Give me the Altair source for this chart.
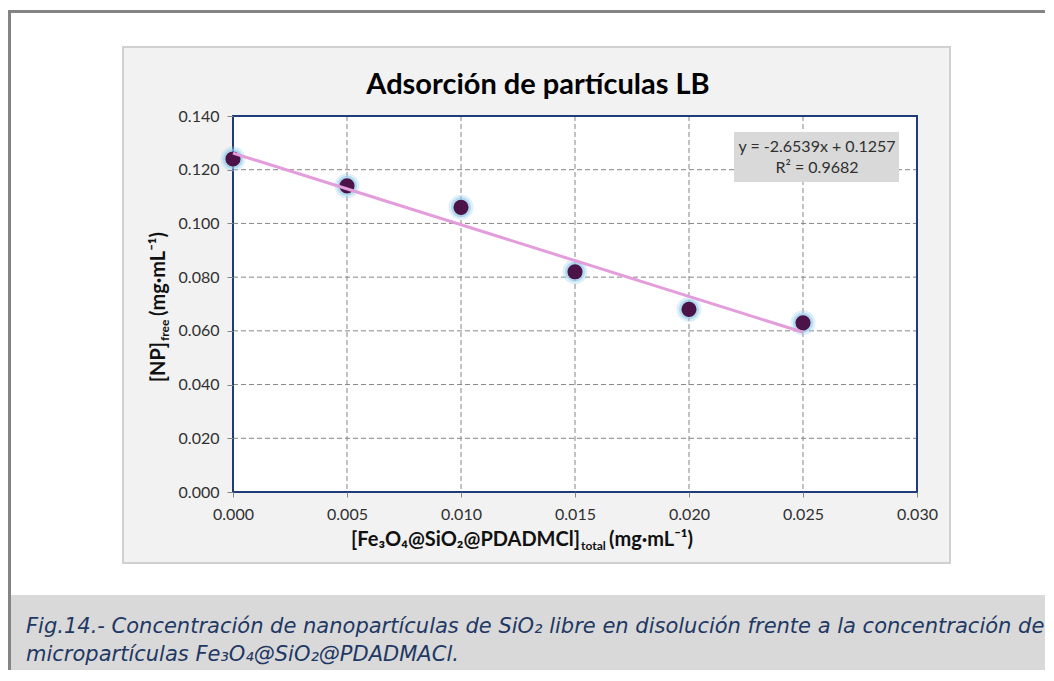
import altair as alt
import pandas as pd

# ---------------- data ----------------
x_conc = [0.000, 0.005, 0.010, 0.015, 0.020, 0.025]
np_free = [0.124, 0.114, 0.106, 0.082, 0.068, 0.063]
x_ticks = [0.000, 0.005, 0.010, 0.015, 0.020, 0.025, 0.030]
y_ticks = [0.000, 0.020, 0.040, 0.060, 0.080, 0.100, 0.120, 0.140]
title_text = "Adsorción de partículas LB"
eq_lines = ["y = -2.6539x + 0.1257", "R² = 0.9682"]
x_title_parts = ["[Fe₃O₄@SiO₂@PDADMCl]", "total", "(mg·mL⁻¹)"]
y_title_parts = ["[NP]", "free", "(mg·mL⁻¹)"]
caption_lines = [
    "Fig.14.- Concentración de nanopartículas de SiO₂ libre en disolución frente a la concentración de",
    "micropartículas Fe₃O₄@SiO₂@PDADMACl.",
]

# ---------------- layout (page pixels) ----------------
W, H = 684, 376
OX, OY = 233, 116


def px(v):
    return v - OX


def py(v):
    return v - OY


one = pd.DataFrame({"k": [0]})


def box(x1, y1, x2, y2, **mark):
    return alt.Chart(one).mark_rect(**mark).encode(
        x=alt.value(px(x1)), x2=alt.value(px(x2)),
        y=alt.value(py(y1)), y2=alt.value(py(y2)),
    )


def label(text, x, y, **mark):
    return alt.Chart(one).mark_text(text=text, **mark).encode(
        x=alt.value(px(x)), y=alt.value(py(y))
    )


df = pd.DataFrame({"x": x_conc, "y": np_free})
xs = alt.Scale(domain=[0, 0.03], nice=False, zero=False)
ys = alt.Scale(domain=[0, 0.14], nice=False, zero=False)

x_axis = alt.Axis(values=x_ticks, format=".3f", grid=False, domain=False,
                  tickColor="#868686", tickSize=5, labelFont="Lato",
                  labelFontSize=16, labelColor="#303030", labelPadding=9,
                  labelFlush=False, title="", zindex=1)
y_axis = alt.Axis(values=y_ticks, format=".3f", grid=False, domain=False,
                  tickColor="#868686", tickSize=6, labelFont="Lato",
                  labelFontSize=16, labelColor="#303030", labelPadding=8,
                  title="", zindex=1)

canvas = box(8, 8, 1045, 670, fill="white", strokeWidth=0)
top_line = box(8, 10, 1045, 13, fill="#848484", strokeWidth=0)
left_line = box(8, 10, 11, 670, fill="#848484", strokeWidth=0)
chart_box = box(123, 47, 950, 563, fill="#f2f2f2", stroke="#d0d0d0", strokeWidth=2)
caption_box = box(11, 595, 1045, 670, fill="#d9d9d9", strokeWidth=0)
plot_bg = alt.Chart(one).mark_rect(fill="white", strokeWidth=0).encode(
    x=alt.value(0), x2=alt.value(W), y=alt.value(0), y2=alt.value(H))

vgrid = alt.Chart(pd.DataFrame({"x": x_ticks[1:-1]})).mark_rule(
    color="#858585", strokeWidth=1, strokeDash=[5, 3]
).encode(x=alt.X("x:Q", scale=xs, axis=x_axis), y=alt.value(0), y2=alt.value(H))
hgrid = alt.Chart(pd.DataFrame({"y": y_ticks[1:-1]})).mark_rule(
    color="#858585", strokeWidth=1, strokeDash=[5, 3]
).encode(y=alt.Y("y:Q", scale=ys, axis=y_axis), x=alt.value(0), x2=alt.value(W))

border = alt.Chart(one).mark_rect(fillOpacity=0, stroke="#1f3b78", strokeWidth=2).encode(
    x=alt.value(0), x2=alt.value(W), y=alt.value(0), y2=alt.value(H))

enc = dict(x=alt.X("x:Q", scale=xs, axis=x_axis), y=alt.Y("y:Q", scale=ys, axis=y_axis))
base = alt.Chart(df)
glow1 = base.mark_circle(color="#9fd0ec", opacity=0.35, size=620).encode(**enc)
glow2 = base.mark_circle(color="#8cc6e8", opacity=0.55, size=400).encode(**enc)
points = base.mark_circle(color="#4c1349", opacity=1, size=230).encode(**enc)
trend = base.transform_regression("x", "y", extent=[0, 0.025]).mark_line(
    color="#e49ddb", strokeWidth=3
).encode(**enc)

eq_box = box(734, 132, 899, 182, fill="#d9d9d9", strokeWidth=0)
eq1 = label(eq_lines[0], 817, 147, font="Lato", fontSize=16, color="#303030",
            align="center", baseline="middle")
eq2 = label(eq_lines[1], 817, 168, font="Lato", fontSize=16, color="#303030",
            align="center", baseline="middle")

title = label(title_text, 538, 85, font="Lato", fontSize=29, fontWeight="bold",
              color="#000000", align="center", baseline="middle")

xt1 = label(x_title_parts[0], 580, 540, font="Lato", fontSize=20, fontWeight="bold",
            color="#111111", align="right", baseline="middle")
xt2 = label(x_title_parts[1], 581, 546, font="Lato", fontSize=12, fontWeight="bold",
            color="#111111", align="left", baseline="middle")
xt3 = label(x_title_parts[2], 609, 540, font="Lato", fontSize=20, fontWeight="bold",
            color="#111111", align="left", baseline="middle")

yt1 = label(y_title_parts[0], 159, 342, font="Lato", fontSize=20, fontWeight="bold",
            color="#111111", align="right", baseline="middle", angle=270)
yt2 = label(y_title_parts[1], 165, 341, font="Lato", fontSize=12, fontWeight="bold",
            color="#111111", align="left", baseline="middle", angle=270)
yt3 = label(y_title_parts[2], 159, 316, font="Lato", fontSize=20, fontWeight="bold",
            color="#111111", align="left", baseline="middle", angle=270)

cap1 = label(caption_lines[0], 26, 627, font="DejaVu Sans", fontSize=21, fontStyle="italic",
             color="#1f3864", align="left", baseline="middle")
cap2 = label(caption_lines[1], 26, 655, font="DejaVu Sans", fontSize=21, fontStyle="italic",
             color="#1f3864", align="left", baseline="middle")

chart = alt.layer(
    canvas, top_line, left_line, chart_box, caption_box, plot_bg,
    vgrid, hgrid, border, glow1, glow2, points, trend,
    eq_box, eq1, eq2, title, xt1, xt2, xt3, yt1, yt2, yt3, cap1, cap2,
).properties(width=W, height=H, padding=0, background="white").configure_view(strokeWidth=0)

chart.save("out.html", embed_options={"renderer": "svg", "actions": False})
